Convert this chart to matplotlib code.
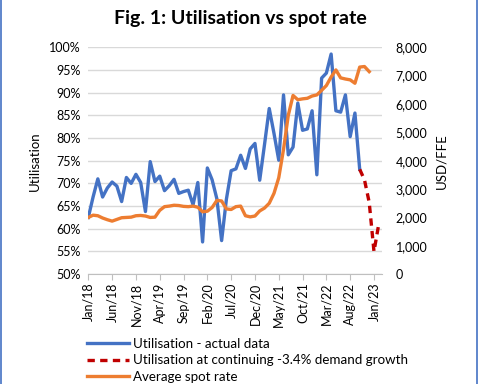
import numpy as np
import matplotlib
matplotlib.use('Agg')
import matplotlib.pyplot as plt
from matplotlib.ticker import FuncFormatter

plt.rcParams['font.family'] = ['Lato', 'DejaVu Sans']

# monthly index, 0 = Jan/18
util_actual = [62.5, 67.0, 71.0, 67.0, 69.0, 70.3, 69.4, 66.0, 71.3, 70.0,
               72.0, 70.2, 63.8, 74.8, 70.4, 71.6, 68.4, 69.5, 70.9, 67.8,
               68.2, 68.5, 65.3, 70.2, 57.1, 73.4, 70.8, 66.6, 57.4, 66.5,
               72.8, 73.2, 76.2, 73.3, 77.6, 78.8, 70.7, 78.5, 86.5, 81.0,
               75.1, 89.5, 76.3, 78.0, 87.7, 81.7, 82.0, 86.0, 71.9, 93.2,
               94.3, 98.5, 86.0, 85.7, 89.5, 80.3, 85.5, 73.1]
util_proj_start = 57
util_proj = [73.1, 70.8, 65.8, 55.0, 61.0]
spot_rate = [2000, 2080, 2060, 1980, 1920, 1870, 1930, 1990, 2000, 2010,
             2060, 2070, 2050, 2000, 2010, 2250, 2380, 2400, 2430, 2420,
             2390, 2380, 2400, 2360, 2200, 2220, 2350, 2600, 2580, 2300,
             2280, 2380, 2400, 2060, 2020, 2050, 2230, 2330, 2500, 2850,
             3400, 4400, 5600, 6300, 6150, 6180, 6200, 6280, 6320, 6480,
             6650, 6950, 7200, 6920, 6880, 6850, 6730, 7300, 7320, 7140]
tick_months = [0, 5, 10, 15, 20, 25, 30, 35, 40, 45, 50, 55, 60]
tick_labels = ['Jan/18', 'Jun/18', 'Nov/18', 'Apr/19', 'Sep/19', 'Feb/20',
               'Jul/20', 'Dec/20', 'May/21', 'Oct/21', 'Mar/22', 'Aug/22',
               'Jan/23']

BLUE = '#4472C4'
ORANGE = '#ED7D31'
RED = '#C00000'
GRID = '#D9D9D9'
TXT = '#000000'

fig = plt.figure(figsize=(4.8, 3.84), dpi=100, facecolor='white')
ax = fig.add_axes([0.183, 0.286, 0.612, 0.591])
ax2 = ax.twinx()

x_act = np.arange(len(util_actual))
x_proj = np.arange(util_proj_start, util_proj_start + len(util_proj))
x_spot = np.arange(len(spot_rate))

l1, = ax.plot(x_act, np.array(util_actual) / 100, color=BLUE, lw=2.4,
              solid_joinstyle='round', label='Utilisation - actual data', zorder=3)
l2, = ax.plot(x_proj, np.array(util_proj) / 100, color=RED, lw=2.4,
              dashes=(2.2, 1.6), label='Utilisation at continuing -3.4% demand growth', zorder=3)
l3, = ax2.plot(x_spot, spot_rate, color=ORANGE, lw=2.4,
               solid_joinstyle='round', label='Average spot rate', zorder=3)

ax.set_ylim(0.5, 1.0)
ax.set_yticks(np.arange(0.5, 1.0001, 0.05))
ax.yaxis.set_major_formatter(FuncFormatter(lambda v, p: f'{v*100:.0f}%'))
ax2.set_ylim(0, 8000)
ax2.set_yticks(np.arange(0, 8001, 1000))
ax2.yaxis.set_major_formatter(FuncFormatter(lambda v, p: f'{v:,.0f}'))

ax.set_xlim(-0.1, 61.6)
ax.set_xticks(tick_months)
ax.set_xticklabels(tick_labels, rotation=90, fontsize=9, color=TXT)

ax.grid(axis='y', color=GRID, lw=1)
ax.set_axisbelow(True)
for a in (ax, ax2):
    for s in ('top', 'left', 'right'):
        a.spines[s].set_visible(False)
    a.spines['bottom'].set_color('#BFBFBF')
ax2.spines['bottom'].set_visible(False)
ax.tick_params(axis='y', length=0, labelsize=9, pad=5)
ax2.tick_params(axis='y', length=0, labelsize=9, pad=10)
ax.tick_params(axis='x', length=4, color='#BFBFBF', pad=2)

ax.set_ylabel('Utilisation', fontsize=9.5, labelpad=6)
ax2.set_ylabel('USD/FFE', fontsize=9.5, labelpad=6)

fig.text(0.5, 0.952, 'Fig. 1: Utilisation vs spot rate', ha='center', va='center',
         fontsize=14, weight='bold')

fig.legend(handles=[l1, l2, l3], loc='upper left', bbox_to_anchor=(0.168, 0.137),
           frameon=False, fontsize=9.6, handlelength=3.1, handletextpad=0.3,
           labelspacing=0.32, borderpad=0)

# figure border
fig.add_artist(plt.Line2D([0.003, 0.003], [0, 1], color=BLUE, lw=1.2, transform=fig.transFigure))
fig.add_artist(plt.Line2D([0.994, 0.994], [0, 1], color=BLUE, lw=1.2, transform=fig.transFigure))

fig.savefig('out.png', dpi=100)
